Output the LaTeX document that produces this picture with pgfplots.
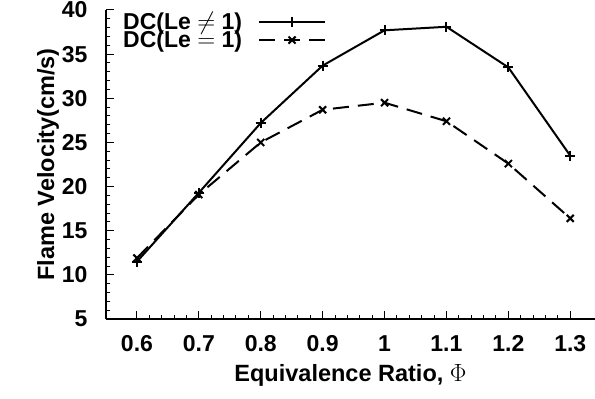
\documentclass[border=0pt]{standalone}
\usepackage{fontspec}
\setmainfont{Liberation Sans}
\usepackage{pgfplots}
\pgfplotsset{compat=1.18}
\begin{document}
\begin{tikzpicture}
\begin{axis}[
  scale only axis,
  width=489pt, height=309pt,
  xmin=0.55, xmax=1.34,
  ymin=5, ymax=40,
  axis x line*=bottom, axis y line*=left,
  axis line style={line width=1.3pt},
  xtick={0.6,0.7,...,1.3},
  ytick={5,10,...,40},
  minor x tick num=4,
  minor y tick num=4,
  tick align=inside,
  major tick length=8pt,
  minor tick length=4pt,
  tick style={line width=1pt, black},
  /pgf/number format/assume math mode=true,
  ticklabel style={font=\fontsize{23}{26}\selectfont\bfseries},
  xticklabel style={yshift=-13pt},
  yticklabel style={xshift=-15pt},
  label style={font=\fontsize{23.5}{27}\selectfont\bfseries},
  xlabel={Equivalence Ratio, $\Phi$},
  ylabel={Flame Velocity(cm/s)},
  xlabel style={yshift=-6pt},
  ylabel style={yshift=-4pt},
  legend plot pos=right,
  legend cell align=left,
  legend style={draw=none, fill=none, at={(0,1)}, anchor=north west, xshift=12pt, yshift=2pt,
    font=\fontsize{23}{23}\selectfont\bfseries, row sep=-4pt},
  legend image code/.code={\path (0pt,-1pt) (0pt,1pt);\draw[mark repeat=2,mark phase=2] plot coordinates {(14pt,0pt)(47pt,0pt)(80pt,0pt)};},
]
\addplot[black, line width=2pt, mark=+, mark size=5pt, mark options={solid, line width=2pt}]
  coordinates {(0.6,11.5)(0.7,19.3)(0.8,27.2)(0.9,33.7)(1.0,37.7)(1.1,38.1)(1.2,33.5)(1.3,23.5)};
\addlegendentry{DC(Le $\neq$ 1)}
\addplot[black, line width=2pt, dash pattern=on 16pt off 9pt, mark=x, mark size=5pt, mark options={solid, line width=2pt}]
  coordinates {(0.6,11.9)(0.7,19.1)(0.8,25.0)(0.9,28.7)(1.0,29.5)(1.1,27.4)(1.2,22.6)(1.3,16.4)};
\addlegendentry{DC(Le $=$ 1)}
\coordinate (O) at (rel axis cs:0,0);
\coordinate (T) at (rel axis cs:1,1);
\end{axis}
\pgfresetboundingbox
\path ([shift={(-106pt,-79pt)}]O) rectangle ([shift={(0pt,10pt)}]T);
\end{tikzpicture}
\end{document}
